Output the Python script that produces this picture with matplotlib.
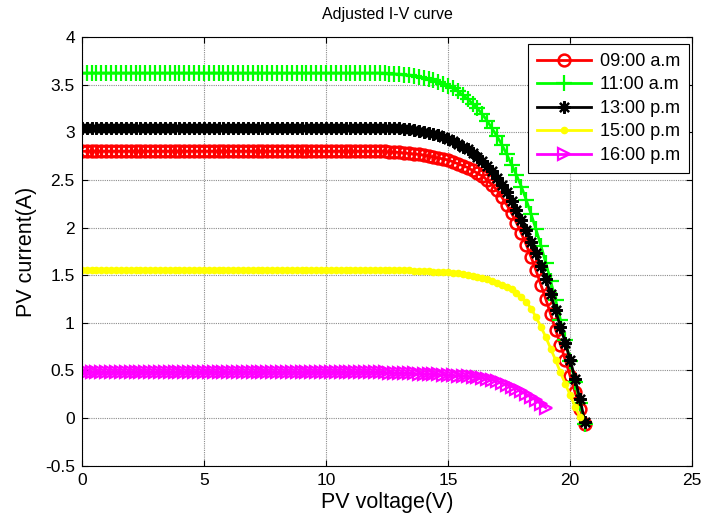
import numpy as np
import matplotlib
matplotlib.use('Agg')
import matplotlib.pyplot as plt
from matplotlib.ticker import FuncFormatter

plt.rcParams['font.family'] = ['Liberation Sans', 'DejaVu Sans']
plt.rcParams['axes.unicode_minus'] = False

# PV voltage grid (V), shared by all curves
volts = [0.0, 0.2, 0.4, 0.6, 0.8, 1.0, 1.2, 1.4, 1.6, 1.8,
         2.0, 2.2, 2.4, 2.6, 2.8, 3.0, 3.2, 3.4, 3.6, 3.8,
         4.0, 4.2, 4.4, 4.6, 4.8, 5.0, 5.2, 5.4, 5.6, 5.8,
         6.0, 6.2, 6.4, 6.6, 6.8, 7.0, 7.2, 7.4, 7.6, 7.8,
         8.0, 8.2, 8.4, 8.6, 8.8, 9.0, 9.2, 9.4, 9.6, 9.8,
         10.0, 10.2, 10.4, 10.6, 10.8, 11.0, 11.2, 11.4, 11.6, 11.8,
         12.0, 12.2, 12.4, 12.6, 12.8, 13.0, 13.2, 13.4, 13.6, 13.8,
         14.0, 14.2, 14.4, 14.6, 14.8, 15.0, 15.2, 15.4, 15.6, 15.8,
         16.0, 16.2, 16.4, 16.6, 16.8, 17.0, 17.2, 17.4, 17.6, 17.8,
         18.0, 18.2, 18.4, 18.6, 18.8, 19.0, 19.2, 19.4, 19.6, 19.8,
         20.0, 20.2, 20.4, 20.6]

# currents (A); flat part 0..12 V then the knee from 12.2 V on
i_0900 = [2.80] * 61 + [2.80, 2.80, 2.79, 2.79, 2.79,
                        2.78, 2.78, 2.77, 2.77, 2.76,
                        2.75, 2.74, 2.73, 2.72, 2.71,
                        2.69, 2.67, 2.65, 2.63, 2.60,
                        2.57, 2.54, 2.50, 2.45, 2.39,
                        2.32, 2.24, 2.15, 2.05, 1.94,
                        1.82, 1.69, 1.55, 1.40, 1.25,
                        1.09, 0.93, 0.77, 0.61, 0.44,
                        0.27, 0.10, -0.06]
i_1100 = [3.62] * 61 + [3.62, 3.62, 3.61, 3.61, 3.61,
                        3.60, 3.60, 3.59, 3.58, 3.57,
                        3.56, 3.55, 3.53, 3.51, 3.49,
                        3.46, 3.43, 3.39, 3.35, 3.30,
                        3.25, 3.19, 3.12, 3.04, 2.96,
                        2.87, 2.77, 2.66, 2.55, 2.43,
                        2.29, 2.14, 1.98, 1.81, 1.63,
                        1.44, 1.24, 1.03, 0.82, 0.60,
                        0.38, 0.16, -0.06]
i_1300 = [3.05] * 61 + [3.05, 3.05, 3.04, 3.04, 3.04,
                        3.03, 3.03, 3.02, 3.01, 3.00,
                        2.99, 2.98, 2.97, 2.95, 2.93,
                        2.91, 2.88, 2.85, 2.82, 2.78,
                        2.74, 2.70, 2.65, 2.59, 2.52,
                        2.45, 2.37, 2.28, 2.18, 2.08,
                        1.97, 1.85, 1.73, 1.60, 1.46,
                        1.30, 1.13, 0.96, 0.79, 0.61,
                        0.41, 0.20, -0.04]
i_1500 = [1.55] * 61 + [1.55, 1.55, 1.55, 1.55, 1.55,
                        1.55, 1.55, 1.54, 1.54, 1.54,
                        1.54, 1.53, 1.53, 1.53, 1.53,
                        1.52, 1.52, 1.51, 1.50, 1.49,
                        1.48, 1.47, 1.46, 1.44, 1.42,
                        1.40, 1.38, 1.35, 1.31, 1.27,
                        1.22, 1.15, 1.06, 0.96, 0.85,
                        0.73, 0.61, 0.48, 0.36, 0.24,
                        0.12, 0.01]
i_1600 = [0.48] * 61 + [0.48, 0.48, 0.47, 0.47, 0.47,
                        0.47, 0.47, 0.47, 0.46, 0.46,
                        0.46, 0.46, 0.46, 0.45, 0.45,
                        0.45, 0.44, 0.44, 0.44, 0.43,
                        0.43, 0.42, 0.41, 0.40, 0.39,
                        0.37, 0.35, 0.33, 0.31, 0.28,
                        0.25, 0.22, 0.19, 0.15, 0.11]

labels = ['09:00 a.m', '11:00 a.m', '13:00 p.m', '15:00 p.m', '16:00 p.m']

fig = plt.figure(figsize=(7.05, 5.21), dpi=100)
ax = fig.add_axes([0.116, 0.106, 0.866, 0.823])

v = np.array(volts)
ax.plot(v[:len(i_0900)], i_0900, color='#ff0000', lw=2, marker='o', ms=8.5,
        mfc='none', mew=1.8, label=labels[0])
ax.plot(v[:len(i_1100)], i_1100, color='#00ff00', lw=2, marker='+', ms=11,
        mew=1.6, label=labels[1])
ax.plot(v[:len(i_1300)], i_1300, color='black', lw=2, marker=(8, 2, 0), ms=9,
        mew=1.6, label=labels[2])
ax.plot(v[:len(i_1500)], i_1500, color='#ffff00', lw=2, marker='.', ms=9,
        label=labels[3])
ax.plot(v[:len(i_1600)], i_1600, color='#ff00ff', lw=2, marker='>', ms=9,
        mfc='none', mew=1.6, label=labels[4])

ax.set_xlim(0, 25)
ax.set_ylim(-0.5, 4)
ax.set_xticks(np.arange(0, 26, 5))
ax.set_yticks(np.arange(-0.5, 4.01, 0.5))
ax.yaxis.set_major_formatter(FuncFormatter(lambda y, p: '%g' % y))
ax.tick_params(direction='in', top=True, right=True, length=4, labelsize=12.5,
               pad=5)
ax.grid(True, color='#8c8c8c', lw=0.8, ls=(0, (1, 1)))
for s in ax.spines.values():
    s.set_linewidth(0.8)

ax.set_title('Adjusted I-V curve', fontsize=11.5, pad=13)
ax.set_xlabel('PV voltage(V)', fontsize=15.5, labelpad=3)
ax.set_ylabel('PV current(A)', fontsize=15.5, labelpad=6)

leg = ax.legend(loc='upper right', bbox_to_anchor=(0.995, 0.984), fontsize=13,
                fancybox=False, edgecolor='black', framealpha=1,
                handlelength=3.0, borderaxespad=0, labelspacing=0.36,
                borderpad=0.5, handletextpad=0.5)
leg.get_frame().set_linewidth(0.8)

fig.savefig('out.png', dpi=100)
